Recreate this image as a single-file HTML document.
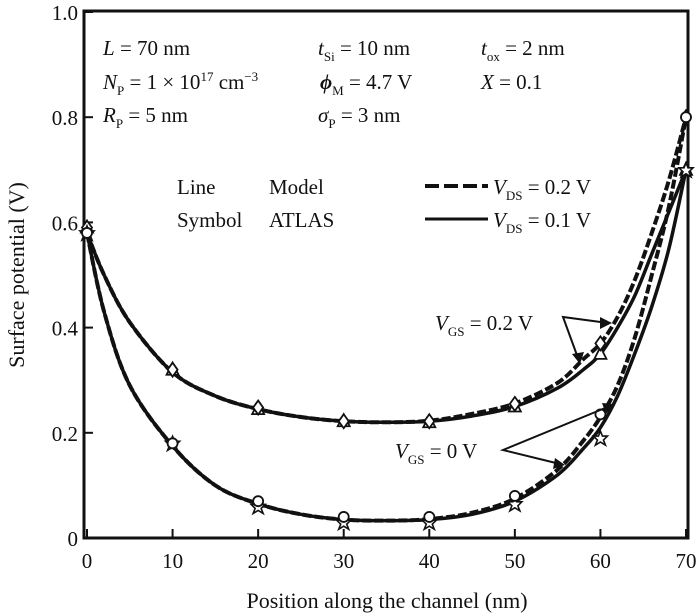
<!DOCTYPE html>
<html><head><meta charset="utf-8"><style>
body{margin:0;background:#fff;}
svg{display:block;font-family:"Liberation Serif",serif;}
text{fill:#111;}
</style></head><body>
<svg id="chart" width="700" height="616" viewBox="0 0 700 616">
<g id="plot"></g>
<g font-size="21">
<text x="103" y="55"><tspan font-style="italic">L</tspan> = 70 nm</text>
<text x="103" y="89"><tspan font-style="italic">N</tspan><tspan font-size="13" dy="6">P</tspan><tspan dy="-6"> = 1 × 10</tspan><tspan font-size="13" dy="-8">17</tspan><tspan dy="8"> cm</tspan><tspan font-size="13" dy="-8">−3</tspan></text>
<text x="103" y="122"><tspan font-style="italic">R</tspan><tspan font-size="13" dy="6">P</tspan><tspan dy="-6"> = 5 nm</tspan></text>
<text x="318" y="55"><tspan font-style="italic">t</tspan><tspan font-size="13" dy="6">Si</tspan><tspan dy="-6"> = 10 nm</tspan></text>
<text x="320" y="89"><tspan font-style="italic" font-weight="bold">ϕ</tspan><tspan font-size="13" dy="6">M</tspan><tspan dy="-6"> = 4.7 V</tspan></text>
<text x="318" y="122"><tspan font-style="italic">σ</tspan><tspan font-size="13" dy="6">P</tspan><tspan dy="-6"> = 3 nm</tspan></text>
<text x="481" y="55"><tspan font-style="italic">t</tspan><tspan font-size="13" dy="6">ox</tspan><tspan dy="-6"> = 2 nm</tspan></text>
<text x="481" y="89"><tspan font-style="italic">X</tspan> = 0.1</text>
</g>
<g font-size="21">
<text x="177" y="194">Line</text><text x="269" y="194">Model</text>
<text x="177" y="227">Symbol</text><text x="269" y="227">ATLAS</text>
<line x1="425" y1="186" x2="488" y2="186" stroke="#111" stroke-width="4" stroke-dasharray="14,5"/>
<line x1="425" y1="219" x2="488" y2="219" stroke="#111" stroke-width="3"/>
<text x="493" y="194"><tspan font-style="italic">V</tspan><tspan font-size="13" dy="6">DS</tspan><tspan dy="-6"> = 0.2 V</tspan></text>
<text x="493" y="227"><tspan font-style="italic">V</tspan><tspan font-size="13" dy="6">DS</tspan><tspan dy="-6"> = 0.1 V</tspan></text>
</g>
<g font-size="21">
<text x="435" y="330"><tspan font-style="italic">V</tspan><tspan font-size="13" dy="6">GS</tspan><tspan dy="-6"> = 0.2 V</tspan></text>
<polyline points="608,323 563,317 578,358" fill="none" stroke="#111" stroke-width="2"/>
<polygon points="612,323 600,317 600,329" fill="#111"/>
<polygon points="580,364 572,354 584,352" fill="#111"/>
<text x="395" y="458"><tspan font-style="italic">V</tspan><tspan font-size="13" dy="6">GS</tspan><tspan dy="-6"> = 0 V</tspan></text>
<polyline points="610,406 503,450 560,464" fill="none" stroke="#111" stroke-width="2"/>
<polygon points="614,404 602,403 606,414" fill="#111"/>
<polygon points="565,465 555,458 553,469" fill="#111"/>
</g>
<text x="387" y="608" font-size="22" text-anchor="middle">Position along the channel (nm)</text>
<text transform="translate(24,275) rotate(-90)" font-size="22" text-anchor="middle">Surface potential (V)</text>
</svg>
<script>
const xTicks=[0,10,20,30,40,50,60,70];
const yTicks=[0,0.2,0.4,0.6,0.8,1.0];
const yTickLabels=["0","0.2","0.4","0.6","0.8","1.0"];
const modelX=[0,2,5,10,15,20,25,30,35,40,45,50,55,58,60,62,64,66,68,70];
const vgs02vds01=[0.58,0.50,0.41,0.315,0.27,0.245,0.23,0.222,0.22,0.222,0.232,0.25,0.285,0.32,0.35,0.4,0.46,0.54,0.62,0.70];
const vgs02vds02=[0.58,0.50,0.41,0.315,0.27,0.245,0.23,0.222,0.22,0.223,0.236,0.256,0.295,0.34,0.37,0.42,0.49,0.58,0.68,0.80];
const vgs0vds01=[0.58,0.43,0.29,0.175,0.10,0.065,0.045,0.035,0.033,0.035,0.045,0.07,0.12,0.17,0.21,0.27,0.35,0.44,0.55,0.70];
const vgs0vds02=[0.58,0.43,0.29,0.175,0.10,0.065,0.045,0.035,0.033,0.036,0.048,0.075,0.13,0.185,0.23,0.29,0.38,0.50,0.63,0.80];
const atlasX=[0,10,20,30,40,50,60,70];
const atlasVgs02vds01=[0.59,0.32,0.245,0.222,0.22,0.25,0.35,0.70];
const atlasVgs02vds02=[0.59,0.32,0.248,0.222,0.222,0.255,0.37,0.80];
const atlasVgs0vds01=[0.58,0.18,0.06,0.03,0.03,0.065,0.19,0.70];
const atlasVgs0vds02=[0.58,0.18,0.07,0.04,0.04,0.08,0.235,0.80];

const X0=87,X1=686,Y0=538,Y1=12;
const sx=v=>X0+(v-0)/(70-0)*(X1-X0);
const sy=v=>Y0-(v-0)/(1-0)*(Y0-Y1);
const NS="http://www.w3.org/2000/svg";
const g=document.getElementById('plot');
function mk(t,a){const e=document.createElementNS(NS,t);for(const k in a)e.setAttribute(k,a[k]);g.appendChild(e);return e;}

const frame=mk('rect',{x:84,y:11,width:604,height:527,fill:'none',stroke:'#111','stroke-width':3});


xTicks.forEach(v=>{
  const t=mk('line',{x1:sx(v),x2:sx(v),y1:Y0,y2:Y0-9,stroke:'#111','stroke-width':2});
  
  
  const l=mk('text',{x:sx(v),y:Y0+30,'font-size':21,'text-anchor':'middle'});
  l.textContent=String(v);
  
  
});
yTicks.forEach((v,i)=>{
  const t=mk('line',{x1:84,x2:93,y1:sy(v),y2:sy(v),stroke:'#111','stroke-width':2});
  
  
  const l=mk('text',{x:78,y:sy(v)+8,'font-size':21,'text-anchor':'end'});
  l.textContent=yTickLabels[i];
  
  
});
function smoothPath(xs,ys){
  const p=xs.map((x,i)=>[sx(x),sy(ys[i])]);
  let d='M'+p[0][0]+','+p[0][1];
  for(let i=0;i<p.length-1;i++){
    const p0=p[Math.max(0,i-1)],p1=p[i],p2=p[i+1],p3=p[Math.min(p.length-1,i+2)];
    const c1=[p1[0]+(p2[0]-p0[0])/6,p1[1]+(p2[1]-p0[1])/6];
    const c2=[p2[0]-(p3[0]-p1[0])/6,p2[1]-(p3[1]-p1[1])/6];
    d+=` C${c1[0]},${c1[1]} ${c2[0]},${c2[1]} ${p2[0]},${p2[1]}`;
  }
  return d;
}
function line(ys,dash,name){
  const p=mk('path',{d:smoothPath(modelX,ys),fill:'none',stroke:'#111','stroke-width':dash?4:3.5,'stroke-dasharray':dash?'9,3':'none','stroke-linejoin':'round'});
  
  
}
line(vgs02vds01,false,'model-vgs0.2-vds0.1');
line(vgs02vds02,true,'model-vgs0.2-vds0.2');
line(vgs0vds01,false,'model-vgs0-vds0.1');
line(vgs0vds02,true,'model-vgs0-vds0.2');
function markers(ys,shape,name){
  atlasX.forEach((x,i)=>{
    const cx=sx(x),cy=sy(ys[i]);let e;
    if(shape==='circle')e=mk('circle',{cx:cx,cy:cy,r:5,fill:'#fff',stroke:'#111','stroke-width':1.8});
    else if(shape==='diamond')e=mk('polygon',{points:`${cx},${cy-7} ${cx+5},${cy} ${cx},${cy+7} ${cx-5},${cy}`,fill:'#fff',stroke:'#111','stroke-width':1.8});
    else if(shape==='tri')e=mk('polygon',{points:`${cx},${cy-7} ${cx+6},${cy+5} ${cx-6},${cy+5}`,fill:'#fff',stroke:'#111','stroke-width':1.8});
    else e=mk('polygon',{points:`${cx},${cy-7} ${cx+2},${cy-2} ${cx+7},${cy-2} ${cx+3},${cy+2} ${cx+5},${cy+7} ${cx},${cy+4} ${cx-5},${cy+7} ${cx-3},${cy+2} ${cx-7},${cy-2} ${cx-2},${cy-2}`,fill:'#fff',stroke:'#111','stroke-width':1.6});
    
    
  });
}
markers(atlasVgs02vds01,'tri','atlas-vgs0.2-vds0.1');
markers(atlasVgs02vds02,'diamond','atlas-vgs0.2-vds0.2');
markers(atlasVgs0vds01,'star','atlas-vgs0-vds0.1');
markers(atlasVgs0vds02,'circle','atlas-vgs0-vds0.2');
</script>
</body></html>
